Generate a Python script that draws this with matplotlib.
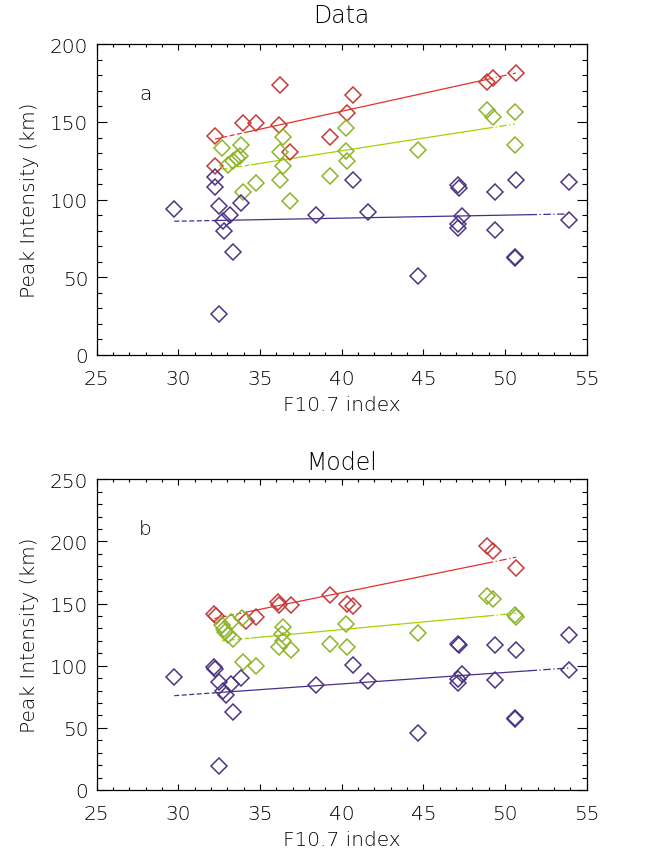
import matplotlib
matplotlib.use("Agg")
import matplotlib.pyplot as plt
from matplotlib.ticker import MultipleLocator
from matplotlib import font_manager as fm
import numpy as np

# ---------------- data (panel a: Data) ----------------
red_x_a = [32.24, 33.98, 34.73, 36.22, 36.18, 40.71, 40.34, 39.28, 36.83, 32.24, 50.67, 48.88, 49.25]
red_y_a = [140.8, 149.2, 149.3, 173.8, 148.2, 167.6, 155.6, 140.1, 130.5, 121.5, 181.5, 175.5, 178.1]

green_x_a = [32.69, 33.83, 33.77, 33.06, 33.36, 33.61, 36.42, 36.22, 36.42, 36.22, 34.73,
             33.98, 36.83, 40.24, 40.24, 40.34, 39.28, 48.88, 49.28, 50.61, 50.61, 44.69]
green_y_a = [133.1, 135.2, 128.3, 122.3, 125.1, 126.6, 140.5, 130.9, 121.5, 112.8, 110.5,
             105.1, 98.9, 145.9, 131.5, 125.1, 115.0, 157.9, 153.0, 156.2, 135.4, 132.0]

purple_x_a = [29.75, 32.24, 32.24, 32.49, 33.83, 33.16, 32.75, 32.81, 33.33, 32.49, 40.71, 38.43, 41.63,
              47.14, 47.18, 49.39, 50.67, 53.92, 47.35, 47.14, 47.14, 49.39, 53.92, 50.61, 50.61, 44.69]
purple_y_a = [94.0, 114.4, 108.3, 96.1, 97.7, 90.3, 86.4, 80.0, 66.1, 26.4, 112.6, 90.1, 92.2,
              109.4, 107.3, 105.1, 112.6, 111.6, 89.7, 84.3, 81.8, 80.5, 87.1, 63.3, 62.4, 51.0]

# fit lines (value at min x, value at max x)
red_fit_a = [139.0, 181.5]
green_fit_a = [119.6, 148.7]
purple_fit_a = [86.1, 90.8]

# ---------------- data (panel b: Model) ----------------
red_x_b = [32.20, 32.29, 34.14, 34.73, 36.12, 36.18, 36.88, 39.28, 40.31, 40.71, 48.91, 49.28, 50.67]
red_y_b = [141.6, 140.3, 136.2, 139.4, 151.0, 148.9, 149.1, 156.9, 149.7, 148.3, 196.6, 192.1, 178.4]

green_x_b = [32.69, 32.81, 33.22, 33.88, 32.86, 33.36, 36.42, 36.33, 36.39, 36.16, 36.88,
             33.98, 34.73, 40.24, 39.28, 40.34, 48.91, 49.25, 50.61, 50.67, 44.69, 33.04]
green_y_b = [132.8, 129.5, 134.9, 138.2, 126.9, 121.5, 130.9, 125.5, 120.1, 114.8, 112.6,
             103.2, 100.0, 133.3, 117.2, 114.8, 155.9, 153.7, 140.8, 139.4, 126.6, 124.7]

purple_x_b = [29.75, 32.20, 32.24, 32.49, 33.83, 33.22, 32.75, 32.90, 33.33, 32.49, 40.71, 38.43, 41.63,
              47.14, 47.18, 49.39, 50.67, 53.92, 47.35, 47.14, 47.14, 49.39, 53.92, 50.61, 50.61, 44.69]
purple_y_b = [90.7, 98.7, 97.4, 87.1, 89.9, 85.3, 79.9, 76.7, 62.5, 19.6, 100.6, 84.7, 87.9,
              117.5, 116.7, 116.9, 112.9, 124.7, 93.3, 89.3, 85.9, 88.8, 96.6, 57.9, 57.1, 45.6]

red_fit_b = [137.9, 187.3]
green_fit_b = [120.1, 142.2]
purple_fit_b = [75.9, 98.2]

titles = ["Data", "Model"]
panel_labels = ["a", "b"]
xlabel = "F10.7 index"
ylabel = "Peak Intensity (km)"

# ---------------- style ----------------
FONT, FW = "DejaVu Sans", "normal"
for fam in ["DejaVu Sans", "Open Sans", "Roboto", "Lato", "Noto Sans"]:
    light = [f for f in fm.fontManager.ttflist
             if f.name == fam and isinstance(f.weight, int) and 200 <= f.weight <= 300
             and f.style == "normal"]
    if light:
        FONT, FW = fam, light[0].weight
        break
plt.rcParams["font.family"] = [FONT, "DejaVu Sans"]
plt.rcParams["font.weight"] = FW
plt.rcParams["axes.labelweight"] = FW
plt.rcParams["axes.titleweight"] = FW

RED_M, RED_L = "#c8393a", "#e8302a"
GRN_M, GRN_L = "#8db52a", "#a2d400"
PUR_M, PUR_L = "#4c3484", "#4a2c8c"

W, H = 665, 853
fig = plt.figure(figsize=(W / 100, H / 100), dpi=100)

def fr(x0, y0, x1, y1):
    return [x0 / W, 1 - y1 / H, (x1 - x0) / W, (y1 - y0) / H]

axes_px = [(96.7, 45.3, 586.7, 356.0), (96.7, 480.3, 586.7, 791.0)]
title_y = [16, 463]
ymaxes = [200, 250]

panels = [
    [(red_x_a, red_y_a, red_fit_a, RED_M, RED_L),
     (green_x_a, green_y_a, green_fit_a, GRN_M, GRN_L),
     (purple_x_a, purple_y_a, purple_fit_a, PUR_M, PUR_L)],
    [(red_x_b, red_y_b, red_fit_b, RED_M, RED_L),
     (green_x_b, green_y_b, green_fit_b, GRN_M, GRN_L),
     (purple_x_b, purple_y_b, purple_fit_b, PUR_M, PUR_L)],
]

for i, (box, ymax, series) in enumerate(zip(axes_px, ymaxes, panels)):
    ax = fig.add_axes(fr(*box))
    ax.set_xlim(25, 55)
    ax.set_ylim(0, ymax)
    for xs, ys, fit, mc, lc in series:
        ax.plot(xs, ys, linestyle="none", marker="D", markersize=8.2,
                markerfacecolor="none", markeredgecolor=mc, markeredgewidth=1.1, zorder=3)
        x0, x1 = min(xs), max(xs)
        f0, f1 = fit
        span = x1 - x0
        def yv(x):
            return f0 + (f1 - f0) * (x - x0) / span
        xa, xb = x0 + 0.1 * span, x1 - 0.1 * span
        ax.plot([x0, xa], [yv(x0), yv(xa)], color=lc, lw=0.9, ls=(0, (4, 2)), zorder=2)
        ax.plot([xa, xb], [yv(xa), yv(xb)], color=lc, lw=0.9, ls="-", zorder=2)
        ax.plot([xb, x1], [yv(xb), yv(x1)], color=lc, lw=0.9, ls=(0, (6, 2, 1, 2)), zorder=2)
    ax.xaxis.set_major_locator(MultipleLocator(5))
    ax.xaxis.set_minor_locator(MultipleLocator(1))
    ax.yaxis.set_major_locator(MultipleLocator(50))
    ax.yaxis.set_minor_locator(MultipleLocator(10))
    ax.tick_params(which="both", direction="in", top=True, right=True, width=0.8,
                   labelsize=14.5, labelcolor="black")
    ax.tick_params(axis="x", which="major", length=4.5, pad=10)
    ax.tick_params(axis="x", which="minor", length=2.2)
    ax.tick_params(axis="y", which="major", length=7, pad=6)
    ax.tick_params(axis="y", which="minor", length=3.5)
    for s in ax.spines.values():
        s.set_linewidth(0.9)
    ax.set_xlabel(xlabel, fontsize=14.5, labelpad=5, fontweight=FW)
    ax.set_ylabel(ylabel, fontsize=14.5, labelpad=8, fontweight=FW)
    fig.text(((box[0] + box[2]) / 2) / W, 1 - title_y[i] / H, titles[i],
             fontsize=17, ha="center", va="center", fontweight=FW)
    ax.text(0.099, 0.843, panel_labels[i], transform=ax.transAxes, fontsize=14.5,
            ha="center", va="center", fontweight=FW)

fig.savefig("out.png", dpi=100)
